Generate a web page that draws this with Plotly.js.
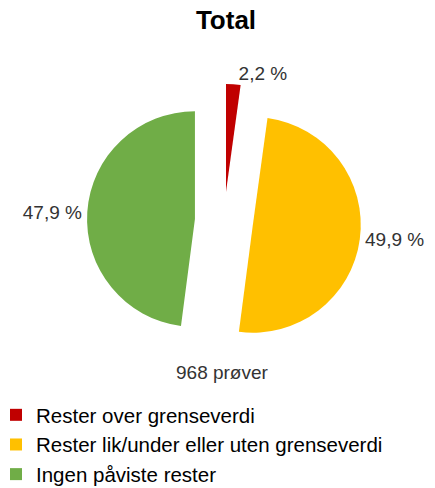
<!DOCTYPE html>
<html>
<head>
<meta charset="utf-8">
<script src="https://cdn.plot.ly/plotly-3.0.1.min.js"></script>
<style>html,body{margin:0;padding:0;background:#fff;}#chart{width:435px;height:488px;}</style>
</head>
<body>
<div id="chart"></div>
<script>
const categories = ["Rester over grenseverdi", "Rester lik/under eller uten grenseverdi", "Ingen påviste rester"];
const counts = [21, 483, 464];
const colors = ["#C00000", "#FFC000", "#70AD47"];
const chartTitle = "Total";
const sampleNote = "968 prøver";

const total = counts.reduce((a, b) => a + b, 0);
const labelsText = counts.map(v => (v / total * 100).toFixed(1).replace('.', ',') + ' %');

const W = 435, H = 488;
const font = "Liberation Sans, Arial, sans-serif";

const trace = {
  type: 'pie',
  labels: categories,
  values: counts,
  text: labelsText,
  textinfo: 'text',
  textposition: 'outside',
  textfont: {family: font, size: 19, color: '#333333'},
  marker: {colors: colors, line: {width: 0}},
  sort: false,
  direction: 'clockwise',
  rotation: 0,
  pull: [0.27, 0.27, 0.27],
  hoverinfo: 'label+percent',
  domain: {x: [87 / W, 361 / W], y: [1 - 358 / H, 1 - 84 / H]}
};

const layout = {
  width: W, height: H,
  margin: {l: 0, r: 0, t: 0, b: 0, autoexpand: false},
  paper_bgcolor: '#ffffff',
  font: {family: font, color: '#333333'},
  title: {text: '<b>' + chartTitle + '</b>', font: {family: font, size: 26, color: '#000000'},
          x: 226 / W, xanchor: 'center', y: 1 - 20 / H, yanchor: 'middle', xref: 'paper', yref: 'paper'},
  showlegend: true,
  legend: {x: -4 / W, xanchor: 'left', y: 1 - 395 / H, yanchor: 'top',
           font: {family: font, size: 20.5, color: '#000000'}, bgcolor: 'rgba(0,0,0,0)'},
  annotations: [{text: sampleNote, x: 222 / W, y: 1 - 372 / H, xref: 'paper', yref: 'paper',
                 showarrow: false, xanchor: 'center', yanchor: 'middle',
                 font: {family: font, size: 19, color: '#333333'}}]
};

Plotly.newPlot('chart', [trace], layout, {displayModeBar: false, staticPlot: true});
</script>
</body>
</html>
